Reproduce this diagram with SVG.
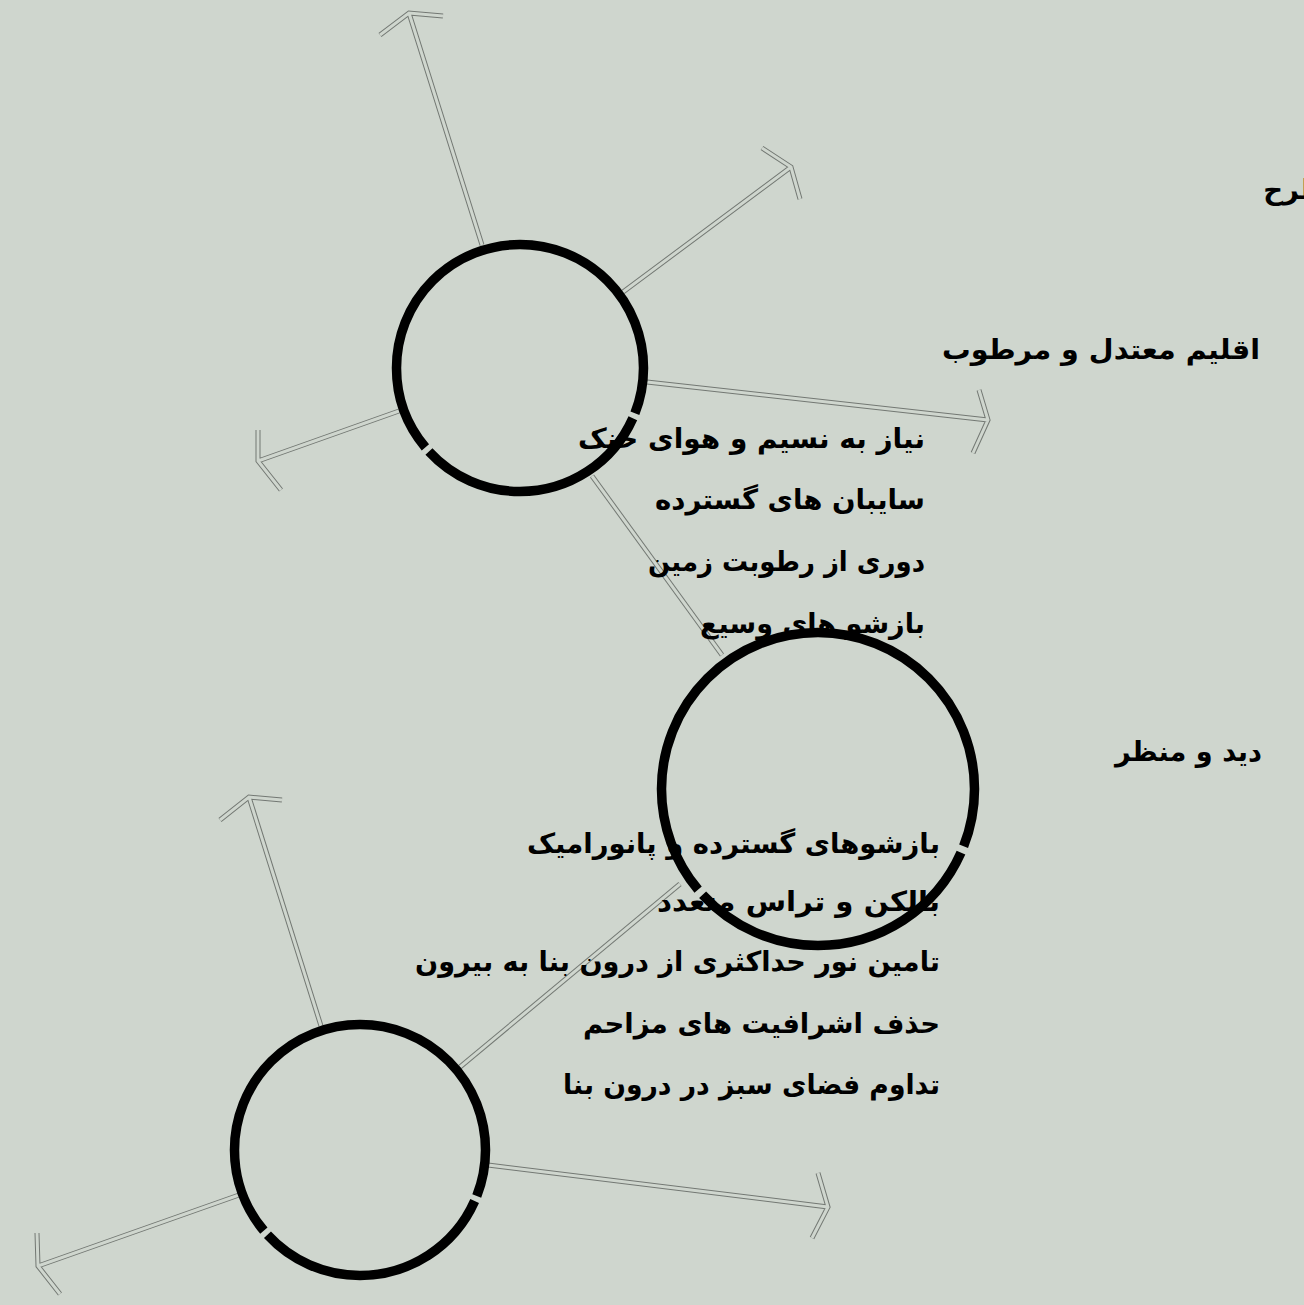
<svg xmlns="http://www.w3.org/2000/svg" width="1304" height="1305" viewBox="0 0 1304 1305">
<style>
.bg{fill:#cfd6ce}
.ring{fill:none;stroke:#000;stroke-width:9.5;stroke-dasharray:21.5 2.5 113.5 2.5 220}
.o{fill:none;stroke:#737873;stroke-width:5;stroke-linejoin:miter;stroke-linecap:butt}
.i{fill:none;stroke:#cfd6ce;stroke-width:3;stroke-linejoin:miter;stroke-linecap:butt}
text{font-family:"DejaVu Sans",sans-serif;font-weight:bold;font-size:27.5px;fill:#000;direction:rtl;text-anchor:start}
</style>
<defs>
<g id="c-geom">
<path d="M482,245 L409,13 M380,35 L409,13 L443,16"/>
<path d="M623,292 L791,167 M762,148 L791,167 L800,199"/>
<path d="M647,382 L988,420 M979,390 L988,420 L973,453"/>
<path d="M399,411 L258,461 M258,430 L258,461 L281,490"/>
<path d="M592,476 L722,655"/>
<path d="M321,1026 L249,797 M220,820 L249,797 L282,800"/>
<path d="M460,1067 L680,884"/>
<path d="M488,1165 L828,1207 M818,1173 L828,1207 L812,1238"/>
<path d="M239,1195 L38,1266 M37,1233 L38,1266 L60,1294"/>
</g>
</defs>
<rect class="bg" x="0" y="0" width="1304" height="1305"/>
<g id="connectors">
<use href="#c-geom" class="o"/>
<use href="#c-geom" class="i"/>
</g>
<g id="node-1"><circle class="ring" cx="520" cy="368" r="123.5" pathLength="360"/></g>
<g id="node-2"><circle class="ring" cx="818" cy="789" r="156.5" pathLength="360"/></g>
<g id="node-3"><circle class="ring" cx="360" cy="1150" r="125.5" pathLength="360"/></g>
<g id="label-title"><text x="1326" y="199">طرح</text></g>
<g id="label-climate"><text x="1260" y="359" textLength="318" lengthAdjust="spacingAndGlyphs">اقلیم معتدل و مرطوب</text></g>
<g id="list-climate">
<text x="925" y="448" textLength="347" lengthAdjust="spacingAndGlyphs">نیاز به نسیم و هوای خنک</text>
<text x="925" y="509" textLength="270" lengthAdjust="spacingAndGlyphs">سایبان های گسترده</text>
<text x="925" y="571" textLength="277" lengthAdjust="spacingAndGlyphs">دوری از رطوبت زمین</text>
<text x="925" y="633" textLength="225" lengthAdjust="spacingAndGlyphs">بازشو های وسیع</text>
</g>
<g id="label-view"><text x="1262" y="761" textLength="147" lengthAdjust="spacingAndGlyphs">دید و منظر</text></g>
<g id="list-view">
<text x="940" y="853" textLength="413" lengthAdjust="spacingAndGlyphs">بازشوهای گسترده و پانورامیک</text>
<text x="940" y="911" textLength="283" lengthAdjust="spacingAndGlyphs">بالکن و تراس متعدد</text>
<text x="940" y="971" textLength="525" lengthAdjust="spacingAndGlyphs">تامین نور حداکثری از درون بنا به بیرون</text>
<text x="940" y="1033" textLength="357" lengthAdjust="spacingAndGlyphs">حذف اشرافیت های مزاحم</text>
<text x="940" y="1094" textLength="377" lengthAdjust="spacingAndGlyphs">تداوم فضای سبز در درون بنا</text>
</g>
</svg>
